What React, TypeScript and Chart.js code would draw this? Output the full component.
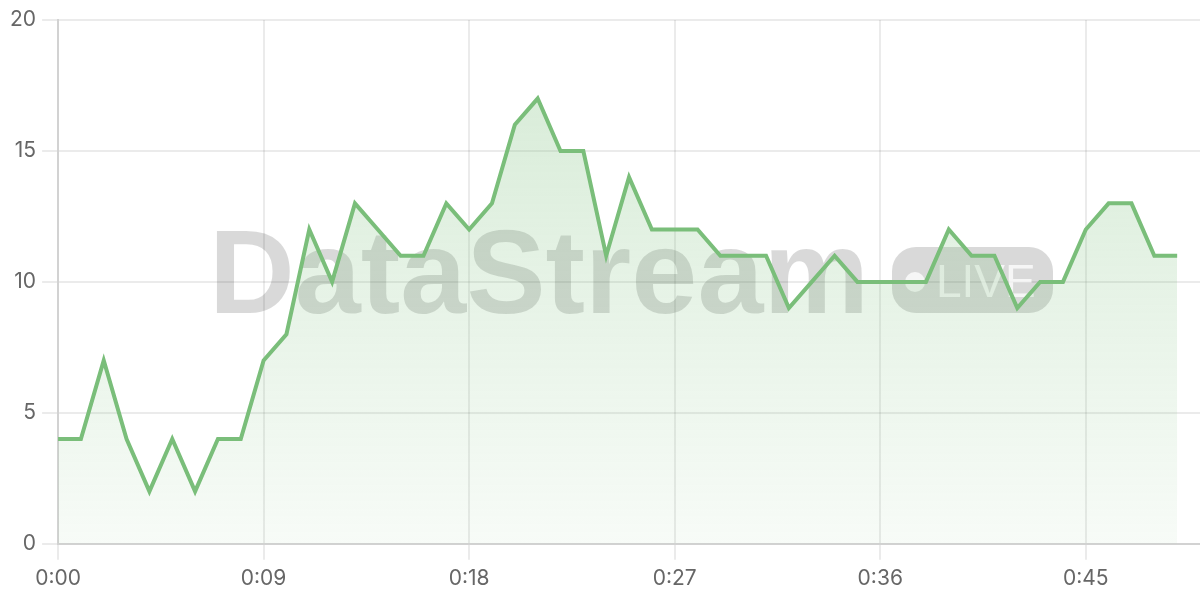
import React, { useEffect, useRef } from "react";
import { Chart, registerables } from "chart.js";

Chart.register(...registerables);

// one label per second, the axis runs one step past the last sample
const timeLabels = [
  "0:00", "0:01", "0:02", "0:03", "0:04", "0:05", "0:06", "0:07", "0:08", "0:09",
  "0:10", "0:11", "0:12", "0:13", "0:14", "0:15", "0:16", "0:17", "0:18", "0:19",
  "0:20", "0:21", "0:22", "0:23", "0:24", "0:25", "0:26", "0:27", "0:28", "0:29",
  "0:30", "0:31", "0:32", "0:33", "0:34", "0:35", "0:36", "0:37", "0:38", "0:39",
  "0:40", "0:41", "0:42", "0:43", "0:44", "0:45", "0:46", "0:47", "0:48", "0:49",
  "0:50",
];

const values = [
  4, 4, 7, 4, 2, 4, 2, 4, 4, 7,
  8, 12, 10, 13, 12, 11, 11, 13, 12, 13,
  16, 17, 15, 15, 11, 14, 12, 12, 12, 11,
  11, 11, 9, 10, 11, 10, 10, 10, 10, 12,
  11, 11, 9, 10, 10, 12, 13, 13, 11, 11,
];

const LABEL_EVERY = 9;
const LINE_COLOR = "rgb(122,190,122)";
const TICK_FONT = "Inter, 'Liberation Sans', sans-serif";
const MARK_FONT = "'Liberation Sans', Arial, sans-serif";

// big grey "DataStream [LIVE]" mark behind the series
const watermark = {
  id: "watermark",
  beforeDatasetsDraw(chart: any) {
    const { ctx } = chart;
    ctx.save();
    ctx.fillStyle = "rgba(0,0,0,0.15)";
    ctx.font = `bold 118px ${MARK_FONT}`;
    ctx.textBaseline = "alphabetic";
    ctx.textAlign = "left";
    const text = "DataStream";
    const w = ctx.measureText(text).width;
    const target = 660;
    ctx.translate(209, 313);
    ctx.scale(target / w, 1);
    ctx.fillText(text, 0, 0);
    ctx.restore();

    // pill
    ctx.save();
    ctx.fillStyle = "rgba(0,0,0,0.15)";
    ctx.beginPath();
    ctx.roundRect(892, 247, 161, 66, 24);
    ctx.fill();
    ctx.fillStyle = "rgba(255,255,255,0.75)";
    ctx.beginPath();
    ctx.arc(915, 282, 10, 0, Math.PI * 2);
    ctx.fill();
    ctx.font = `46px ${MARK_FONT}`;
    ctx.textBaseline = "alphabetic";
    ctx.fillText("LIVE", 936, 297);
    ctx.restore();
  },
};

export default function App() {
  const canvasRef = useRef<HTMLCanvasElement | null>(null);

  useEffect(() => {
    const canvas = canvasRef.current;
    if (!canvas) return;

    const chart = new Chart(canvas, {
      type: "line",
      data: {
        labels: timeLabels,
        datasets: [
          {
            data: values,
            borderColor: LINE_COLOR,
            borderWidth: 4,
            pointRadius: 0,
            tension: 0,
            fill: "origin",
            backgroundColor: (c: any) => {
              const area = c.chart.chartArea;
              if (!area) return "rgba(122,190,122,0.15)";
              const g = c.chart.ctx.createLinearGradient(0, area.top, 0, area.bottom);
              g.addColorStop(0, "rgba(122,190,122,0.32)");
              g.addColorStop(1, "rgba(122,190,122,0.06)");
              return g;
            },
          },
        ],
      },
      options: {
        animation: false,
        responsive: false,
        maintainAspectRatio: false,
        layout: { padding: { top: 20, left: 4, right: 0, bottom: 3 } },
        plugins: {
          legend: { display: false },
          tooltip: { enabled: false },
        },
        scales: {
          x: {
            offset: false,
            grid: {
              color: "rgba(0,0,0,0.08)",
              lineWidth: 2,
              tickLength: 16,
            },
            border: { color: "#d2d2d2", width: 2 },
            ticks: {
              autoSkip: false,
              maxRotation: 0,
              padding: 6,
              color: "#666",
              font: { family: TICK_FONT, size: 21 },
              callback: (_v: any, i: number) =>
                i % LABEL_EVERY === 0 && i < values.length ? timeLabels[i] : null,
            },
          },
          y: {
            min: 0,
            max: 20,
            grid: {
              color: "rgba(0,0,0,0.08)",
              lineWidth: 2,
              tickLength: 16,
            },
            border: { color: "#d2d2d2", width: 2 },
            ticks: {
              stepSize: 5,
              padding: 6,
              color: "#666",
              font: { family: TICK_FONT, size: 21 },
            },
          },
        },
      },
      plugins: [watermark],
    });

    return () => chart.destroy();
  }, []);

  return (
    <div style={{ position: "absolute", left: 0, top: 0, width: 1200, height: 600, background: "#fff" }}>
      <canvas ref={canvasRef} width={1200} height={600} style={{ width: 1200, height: 600 }} />
    </div>
  );
}
